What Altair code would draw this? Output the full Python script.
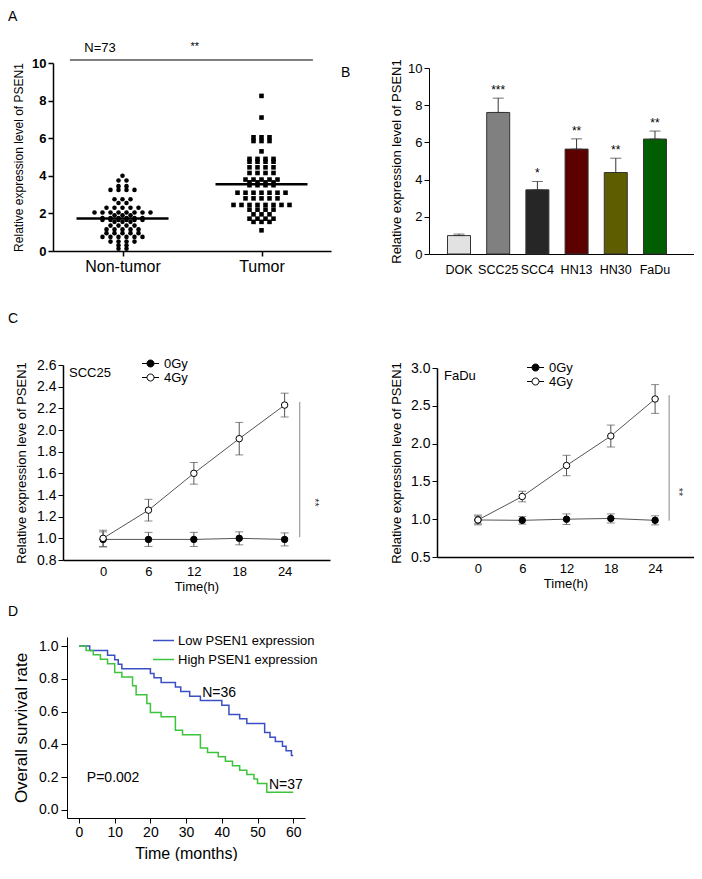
import altair as alt
import pandas as pd

FONT = "Liberation Sans"

# ---------------- Panel A: scatter ----------------
a_groups = ["Non-tumor", "Tumor"]
a_nontumor = [4.0, 3.75, 3.75, 3.45, 3.45, 3.25, 3.25, 3.25, 3.25, 2.75, 2.75, 2.75,
              2.55, 2.55, 2.3, 2.3, 2.3, 2.3, 2.3, 2.05, 2.05, 2.05, 2.05, 2.05, 2.05,
              2.05, 2.05, 1.9, 1.9, 1.9, 1.75, 1.75, 1.75, 1.75, 1.75, 1.75, 1.65, 1.65,
              1.65, 1.65, 1.65, 1.65, 1.55, 1.55, 1.55, 1.35, 1.35, 1.35, 1.35, 1.15,
              1.15, 1.15, 1.15, 1.15, 0.95, 0.95, 0.95, 0.95, 0.95, 0.75, 0.75, 0.75,
              0.75, 0.75, 0.75, 0.5, 0.5, 0.5, 0.5, 0.3, 0.3, 0.12, 0.12]
a_tumor = [8.25, 7.1, 6.05, 6.05, 6.05, 5.85, 5.85, 5.85, 5.3, 4.9, 4.9, 4.9, 4.9,
           4.75, 4.75, 4.75, 4.75, 4.45, 4.45, 4.45, 4.45, 4.15, 4.15, 4.15, 4.15,
           3.8, 3.8, 3.8, 3.8, 3.8, 3.65, 3.65, 3.65, 3.65, 3.5, 3.5, 3.5, 3.5,
           3.1, 3.1, 3.1, 3.1, 3.1, 3.1, 3.1, 2.8, 2.8, 2.8, 2.8, 2.8, 2.45, 2.45,
           2.45, 2.45, 2.45, 2.45, 2.45, 2.45, 2.2, 2.2, 2.2, 2.2, 1.95, 1.95, 1.95,
           1.72, 1.72, 1.72, 1.72, 1.55, 1.55, 1.55, 1.1]
a_y_ticks = [0, 2, 4, 6, 8, 10]
a_n_label = "N=73"
a_sig_label = "**"

# ---------------- Panel B: bars ----------------
b_lines = ["DOK", "SCC25", "SCC4", "HN13", "HN30", "FaDu"]
b_means = [0.99, 7.61, 3.45, 5.64, 4.38, 6.18]
b_errs = [0.08, 0.77, 0.45, 0.55, 0.77, 0.43]
b_stars = ["", "***", "*", "**", "**", "**"]
b_colors = ["#e2e2e2", "#808080", "#262626", "#5c0000", "#5e5e00", "#005e00"]
b_y_ticks = [0, 2, 4, 6, 8, 10]

# ---------------- Panel C: time courses ----------------
c_times = [0, 6, 12, 18, 24]
c_doses = ["0Gy", "4Gy"]
scc25_0gy = [0.99, 0.99, 0.99, 1.00, 0.99]
scc25_0gy_err = [0.07, 0.065, 0.065, 0.06, 0.06]
scc25_4gy = [1.00, 1.26, 1.60, 1.92, 2.23]
scc25_4gy_err = [0.075, 0.10, 0.10, 0.15, 0.11]
fadu_0gy = [0.99, 0.985, 1.00, 1.01, 0.985]
fadu_0gy_err = [0.05, 0.05, 0.07, 0.06, 0.06]
fadu_4gy = [0.99, 1.30, 1.71, 2.10, 2.59]
fadu_4gy_err = [0.065, 0.07, 0.135, 0.145, 0.19]
c1_y_ticks = [0.8, 1.0, 1.2, 1.4, 1.6, 1.8, 2.0, 2.2, 2.4, 2.6]
c2_y_ticks = [0.5, 1.0, 1.5, 2.0, 2.5, 3.0]

# ---------------- Panel D: survival ----------------
d_groups = ["Low PSEN1 expression", "High PSEN1 expression"]
d_low_t = [0, 3, 8, 10, 11, 12, 20, 21, 23, 27, 28.5, 31, 34, 40, 42, 45, 47, 52,
           53.5, 55, 57, 58, 59.5, 60]
d_low_s = [1.0, 0.972, 0.944, 0.917, 0.889, 0.861, 0.833, 0.806, 0.778, 0.75, 0.722,
           0.694, 0.667, 0.639, 0.583, 0.556, 0.528, 0.472, 0.444, 0.417, 0.389,
           0.361, 0.333, 0.333]
d_high_t = [0, 2, 4, 6, 8, 10, 12, 15, 16, 19, 20, 23, 27, 29, 34, 36, 39, 41, 43,
            45, 47, 49, 50, 52.6, 60]
d_high_s = [1.0, 0.973, 0.946, 0.919, 0.892, 0.838, 0.811, 0.757, 0.703, 0.649,
            0.595, 0.568, 0.486, 0.459, 0.378, 0.351, 0.324, 0.297, 0.27, 0.243,
            0.216, 0.189, 0.162, 0.108, 0.108]
d_x_ticks = [0, 10, 20, 30, 40, 50, 60]
d_y_ticks = [0.0, 0.2, 0.4, 0.6, 0.8, 1.0]
d_colors = ["#3b4fc4", "#3cc43c"]

panel_letters = ["A", "B", "C", "D"]

# ======================================================================
COL1_W, COL2_W = 376, 265
ROW1_H, ROW2_H, ROW3_H = 188, 306, 261


def letter_layer(letter, px, py):
    # panel letter placed in the cell's pixel frame (layout annotation)
    return alt.Chart(pd.DataFrame({"t": [letter]})).mark_text(
        align="left", baseline="top", fontSize=14, color="black").encode(
        x=alt.value(px), y=alt.value(py), text="t:N")


# Panel A
A_W = 278
a_px_per_unit = A_W / 2.0
rows = []
for gi, vals in enumerate([a_nontumor, a_tumor]):
    counts = {}
    for v in vals:
        counts[v] = counts.get(v, 0) + 1
    for v, n in counts.items():
        for i in range(n):
            rows.append({"group": a_groups[gi], "value": v,
                         "xpos": gi + (i - (n - 1) / 2) * 8.0 / a_px_per_unit})
a_df = pd.DataFrame(rows)
a_mean = pd.DataFrame({
    "group": a_groups,
    "mean": [sum(a_nontumor) / len(a_nontumor), sum(a_tumor) / len(a_tumor)],
    "x1": [i - 46 / a_px_per_unit for i in range(2)],
    "x2": [i + 46 / a_px_per_unit for i in range(2)],
})

a_xs = alt.Scale(domain=[-0.5, 1.5], range=[0, A_W], nice=False, zero=False)
a_ys = alt.Scale(domain=[0, 10], nice=False)
a_xaxis = alt.Axis(values=[0, 1], title=None,
                   labelExpr="datum.value == 0 ? '%s' : '%s'" % (a_groups[0], a_groups[1]),
                   labelFontSize=16, tickSize=5, tickWidth=1.5, domainWidth=1.5, labelPadding=2)
a_yaxis = alt.Axis(values=a_y_ticks, labelFontSize=13, labelFontWeight="bold",
                   tickSize=5, tickWidth=1.5, domainWidth=1.5, labelPadding=2,
                   title="Relative expression level of PSEN1", titleFontSize=12,
                   titlePadding=6)
A_X = lambda f: alt.X(f, scale=a_xs, axis=a_xaxis)
A_Y = lambda f: alt.Y(f, scale=a_ys, axis=a_yaxis)

a_pts = alt.Chart(a_df).mark_point(filled=True, opacity=1, color="black", size=21).encode(
    x=A_X("xpos:Q"), y=A_Y("value:Q"),
    shape=alt.Shape("group:N", scale=alt.Scale(domain=a_groups, range=["circle", "square"]),
                    legend=None))
a_lines = alt.Chart(a_mean).mark_rule(color="black", strokeWidth=2.5).encode(
    x=A_X("x1:Q"), x2="x2:Q", y=A_Y("mean:Q"))
a_top = alt.Chart(pd.DataFrame({"x1": [-0.378], "x2": [1.37], "y": [10.16]})).mark_rule(
    color="black", strokeWidth=1).encode(x=A_X("x1:Q"), x2="x2:Q", y=A_Y("y:Q"))
a_txt = alt.Chart(pd.DataFrame({"x": [-0.162, 0.52], "y": [10.8, 10.85],
                                "t": [a_n_label, a_sig_label], "fs": [13, 11]})).mark_text(
    baseline="middle", color="black").encode(
    x=A_X("x:Q"), y=A_Y("y:Q"), text="t:N",
    size=alt.Size("fs:Q", scale=None, legend=None))
panel_a = alt.layer(a_pts, a_lines, a_top, a_txt,
                    letter_layer(panel_letters[0], -45, -53)).properties(
    width=COL1_W, height=ROW1_H)

# ======================================================================
# Panel B
b_df = pd.DataFrame({"line": b_lines, "mean": b_means, "err": b_errs, "star": b_stars})
b_df["upper"] = b_df["mean"] + b_df["err"]
b_xs = alt.Scale(paddingInner=0.413, paddingOuter=0.587, align=0.402)
b_ys = alt.Scale(domain=[0, 10], range=[191, 5], nice=False)
b_xaxis = alt.Axis(title=None, labelAngle=0, ticks=False, labelFontSize=12.5, labelPadding=9,
                   domainWidth=1, offset=3)
b_yaxis = alt.Axis(values=b_y_ticks, labelFontSize=13, tickSize=5, labelPadding=2,
                   title="Relative expression level of PSEN1", titleFontSize=13,
                   titlePadding=4)
B_X = alt.X("line:N", sort=b_lines, scale=b_xs, axis=b_xaxis)
b_base = alt.Chart(b_df)
b_bars = b_base.mark_bar(stroke="#333333", strokeWidth=1).encode(
    x=B_X, y=alt.Y("mean:Q", scale=b_ys, axis=b_yaxis),
    color=alt.Color("line:N", scale=alt.Scale(domain=b_lines, range=b_colors), legend=None))
b_err = b_base.mark_errorbar(ticks={"size": 11}, color="#333333", thickness=1).encode(
    x=B_X, y=alt.Y("mean:Q", scale=b_ys, axis=b_yaxis), y2="upper:Q")
b_star = b_base.mark_text(baseline="bottom", dy=-1, fontSize=12, color="black").encode(
    x=B_X, y=alt.Y("upper:Q", scale=b_ys, axis=b_yaxis), text="star:N")
panel_b = alt.layer(b_bars, b_err, b_star,
                    letter_layer(panel_letters[1], -88, 3)).properties(
    width=COL2_W, height=ROW1_H)

# ======================================================================
# Panel C
C_SYMBOL = "M-2.43,0L-1,0M1,0L2.43,0M1,0A1,1,0,1,1,-1,0A1,1,0,1,1,1,0Z"


def panel_c(m0, e0, m4, e4, y_dom, y_ticks, y_rng, x_dom, x_rng, x_off, cell_w,
            name, name_xy, sig, star_xy, leg_xy, letter=None, ytp=7):
    recs = []
    for dose, m, e in [(c_doses[0], m0, e0), (c_doses[1], m4, e4)]:
        for t, mv, ev in zip(c_times, m, e):
            recs.append({"dose": dose, "t": t, "mean": mv, "lo": mv - ev, "hi": mv + ev})
    df = pd.DataFrame(recs)
    xs = alt.Scale(domain=x_dom, range=x_rng, nice=False, zero=False)
    ys = alt.Scale(domain=y_dom, range=y_rng, nice=False, zero=False)
    xa = alt.Axis(values=c_times, title="Time(h)", labelFontSize=13, titleFontSize=13,
                  ticks=False, labelPadding=5, titlePadding=2, offset=x_off, domainWidth=1.5)
    ya = alt.Axis(values=y_ticks, format=".1f", labelFontSize=14, tickSize=5,
                  labelPadding=2, domainWidth=1.5, title="Relative expression leve of PSEN1",
                  titleFontSize=13, titlePadding=ytp, offset=-x_rng[0])
    X = lambda f: alt.X(f, scale=xs, axis=xa)
    Y = lambda f: alt.Y(f, scale=ys, axis=ya)
    base = alt.Chart(df)
    err = base.mark_errorbar(ticks={"size": 8}, color="#555555", thickness=1).encode(
        x=X("t:Q"), y=Y("lo:Q"), y2="hi:Q", detail="dose:N")
    line = base.mark_line(color="#555555", strokeWidth=1).encode(
        x=X("t:Q"), y=Y("mean:Q"), detail="dose:N")
    pts = base.mark_point(filled=True, shape="circle", size=42, stroke="black",
                          strokeWidth=1, opacity=1).encode(
        x=X("t:Q"), y=Y("mean:Q"),
        fill=alt.Fill("dose:N", scale=alt.Scale(domain=c_doses, range=["black", "white"]),
                      legend=alt.Legend(orient="none", legendX=leg_xy[0], legendY=leg_xy[1],
                                        title=None, symbolType=C_SYMBOL, symbolSize=49,
                                        symbolStrokeColor="black", symbolStrokeWidth=1,
                                        labelFontSize=13, labelOffset=7, rowPadding=-2,
                                        padding=0)))
    sig_rule = alt.Chart(pd.DataFrame({"x": [sig[0]], "y": [sig[1]], "y2": [sig[2]]})).mark_rule(
        color="#888888", strokeWidth=1).encode(x=X("x:Q"), y=Y("y:Q"), y2="y2:Q")
    star = alt.Chart(pd.DataFrame({"x": [star_xy[0]], "y": [star_xy[1]], "t": ["**"]})).mark_text(
        angle=90, fontSize=11, color="#333333").encode(x=X("x:Q"), y=Y("y:Q"), text="t:N")
    lab = alt.Chart(pd.DataFrame({"x": [name_xy[0]], "y": [name_xy[1]], "t": [name]})).mark_text(
        align="left", baseline="middle", fontSize=13, color="black").encode(
        x=X("x:Q"), y=Y("y:Q"), text="t:N")
    layers = [err, line, pts, sig_rule, star, lab]
    if letter:
        layers.append(letter_layer(letter, -45, 61))
    return alt.layer(*layers).properties(width=cell_w, height=ROW2_H)


panel_c1 = panel_c(scc25_0gy, scc25_0gy_err, scc25_4gy, scc25_4gy_err,
                   [0.8, 2.6], c1_y_ticks, [309, 114], [-5.3, 30], [10, 277], 3, COL1_W,
                   "SCC25", (-4.5, 2.527), (26.0, 2.26, 1.01), (27.85, 1.33), (91, 106),
                   letter=panel_letters[2], ytp=8)
panel_c2 = panel_c(fadu_0gy, fadu_0gy_err, fadu_4gy, fadu_4gy_err,
                   [0.5, 3.0], c2_y_ticks, [306, 117], [-5.55, 29.27], [8, 265], 0, COL2_W,
                   "FaDu", (-4.6, 2.894), (25.9, 2.64, 0.98), (27.1, 1.36), (100, 110),
                   ytp=7)

# ======================================================================
# Panel D
d_df = pd.concat([
    pd.DataFrame({"group": d_groups[0], "t": d_low_t, "s": d_low_s}),
    pd.DataFrame({"group": d_groups[1], "t": d_high_t, "s": d_high_s}),
])
d_xs = alt.Scale(domain=[-3.36, 63.3], range=[14, 252], nice=False, zero=False)
d_ys = alt.Scale(domain=[-0.0488, 1.055], range=[ROW3_H, 80], nice=False, zero=False)
d_xa = alt.Axis(values=d_x_ticks, title="Time (months)", titleFontSize=16, labelFontSize=14,
                tickSize=5, labelPadding=2, titlePadding=6)
d_ya = alt.Axis(values=d_y_ticks, format=".1f", title="Overall survival rate",
                titleFontSize=17, labelFontSize=14, tickSize=6, labelPadding=3, titlePadding=8,
                offset=-14)
D_X = lambda f: alt.X(f, scale=d_xs, axis=d_xa)
D_Y = lambda f: alt.Y(f, scale=d_ys, axis=d_ya)
d_lines = alt.Chart(d_df).mark_line(interpolate="step-after", strokeWidth=1.5).encode(
    x=D_X("t:Q"), y=D_Y("s:Q"),
    color=alt.Color("group:N", scale=alt.Scale(domain=d_groups, range=d_colors),
                    legend=alt.Legend(orient="none", legendX=99, legendY=72, title=None,
                                      symbolType="stroke", symbolSize=441,
                                      symbolStrokeWidth=1.5, labelFontSize=13,
                                      labelOffset=3, rowPadding=-6, padding=0)))
d_txt = alt.Chart(pd.DataFrame({"x": [34.5, 53.2, 2.2], "y": [0.713, 0.152, 0.195],
                                "t": ["N=36", "N=37", "P=0.002"]})).mark_text(
    align="left", baseline="middle", fontSize=14, color="black").encode(
    x=D_X("x:Q"), y=D_Y("y:Q"), text="t:N")
panel_d = alt.layer(d_lines, d_txt, letter_layer(panel_letters[3], -45, 48)).properties(
    width=252, height=ROW3_H)

# ======================================================================
chart = alt.concat(
    panel_a, panel_b, panel_c1, panel_c2, panel_d,
    columns=2, spacing=0, bounds="flush",
).resolve_scale(
    color="independent", fill="independent", shape="independent", size="independent"
).resolve_legend(
    color="independent", fill="independent", shape="independent", size="independent"
).properties(
    padding={"left": 0, "top": 2, "right": 0, "bottom": 0}
).configure(font=FONT).configure_view(stroke=None).configure_axis(
    grid=False, labelFont=FONT, titleFont=FONT, labelColor="black", titleColor="black",
    domainColor="black", tickColor="black", titleFontWeight="normal"
).configure_legend(labelFont=FONT, labelColor="black")

chart.save("out.html", embed_options={"renderer": "svg", "actions": False})
